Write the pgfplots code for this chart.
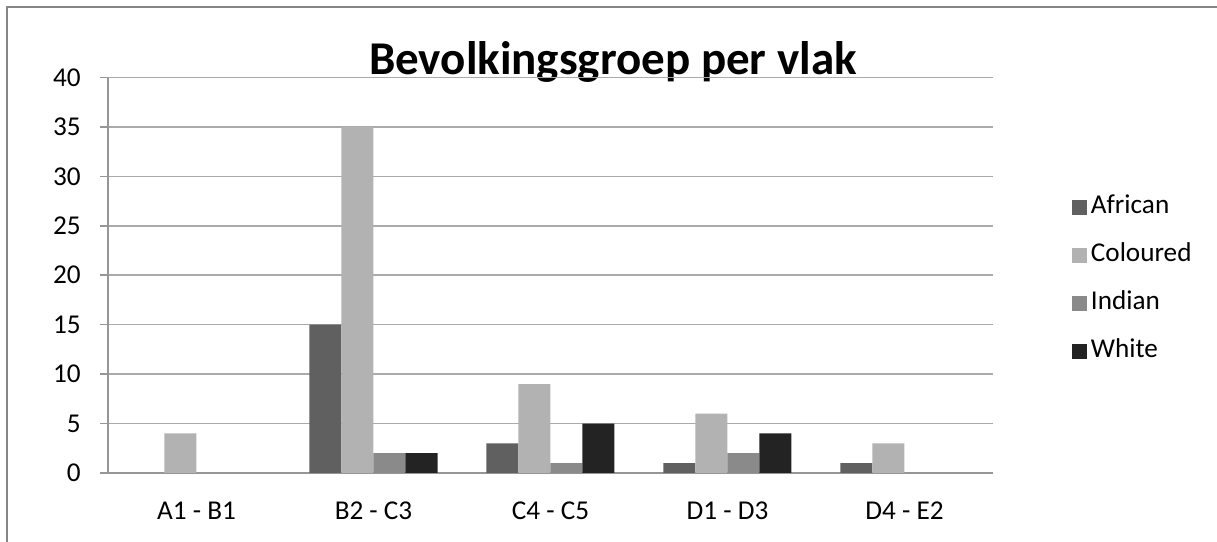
\documentclass[border=0pt]{standalone}
\usepackage{fontspec}
\setmainfont{Carlito}
\usepackage{pgfplots}
\pgfplotsset{compat=1.18}

\definecolor{cAfrican}{RGB}{96,96,96}
\definecolor{cColoured}{RGB}{178,178,178}
\definecolor{cIndian}{RGB}{138,138,138}
\definecolor{cWhite}{RGB}{35,35,35}
\definecolor{frameclr}{RGB}{134,134,134}
\definecolor{gridclr}{RGB}{170,170,170}
\definecolor{axisclr}{RGB}{150,150,150}

\begin{document}
\begin{tikzpicture}
  \path[use as bounding box] (0,0) rectangle (608.5bp,271bp);
  \draw[frameclr, line width=0.8bp] (3.5bp,0) -- (3.5bp,267.5bp) -- (608.5bp,267.5bp);
  \node[anchor=base, font=\fontsize{23.5bp}{26bp}\selectfont\bfseries, inner sep=0pt]
    at (306.5bp,233.5bp) {Bevolkingsgroep per vlak};
  \begin{axis}[
    at={(54bp,34.5bp)}, anchor=south west,
    scale only axis,
    width=442.5bp, height=197.75bp,
    ybar=0pt, bar width=16bp,
    xmin=-0.5, xmax=4.5,
    ymin=0, ymax=40,
    ytick={0,5,...,40},
    xtick={0,1,2,3,4},
    xticklabels={A1 - B1, B2 - C3, C4 - C5, D1 - D3, D4 - E2},
    xtick style={draw=none},
    extra x ticks={-0.5,0.5,1.5,2.5,3.5,4.5},
    extra x tick labels={},
    extra x tick style={grid=none, tick style={draw=axisclr, line width=0.8bp}},
    tick align=outside,
    major tick length=4bp,
    ytick style={draw=axisclr, line width=0.8bp},
    axis x line*=bottom, axis y line*=left,
    axis line style={draw=axisclr, line width=0.8bp, -},
    ymajorgrids,
    grid style={draw=gridclr, line width=0.8bp},
    tick label style={font=\fontsize{13.6bp}{16bp}\selectfont},
    every y tick label/.append style={anchor=east, inner xsep=0pt, xshift=-9.5bp},
    xticklabel style={anchor=north, inner ysep=0pt, text height=8.8bp, text depth=0pt, yshift=-10.5bp},
    legend style={
      at={(1.0893,0.4893)}, anchor=west,
      draw=none, fill=none, inner sep=0pt,
      row sep=13.85bp,
      font=\fontsize{13.6bp}{16bp}\selectfont,
      nodes={inner xsep=1.75bp, inner ysep=0pt, text height=8bp, text depth=2bp},
    },
    legend cell align=left,
    legend image code/.code={\fill[#1, draw=none] (0bp,-3.75bp) rectangle (7.5bp,3.75bp);},
    every axis plot/.append style={draw=none},
    /pgf/number format/assume math mode=true,
  ]
    \addplot[fill=cAfrican]  coordinates {(0,0) (1,15) (2,3) (3,1) (4,1)};
    \addplot[fill=cColoured] coordinates {(0,4) (1,35) (2,9) (3,6) (4,3)};
    \addplot[fill=cIndian]   coordinates {(0,0) (1,2) (2,1) (3,2) (4,0)};
    \addplot[fill=cWhite]    coordinates {(0,0) (1,2) (2,5) (3,4) (4,0)};
    \legend{African, Coloured, Indian, White}
  \end{axis}
\end{tikzpicture}
\end{document}
